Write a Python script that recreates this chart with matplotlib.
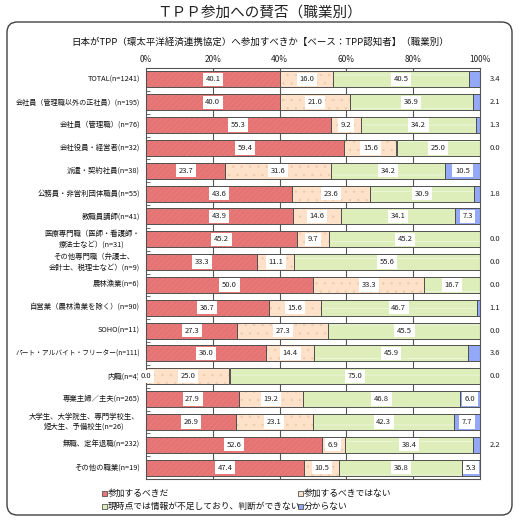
import matplotlib
matplotlib.use("Agg")
import matplotlib.pyplot as plt
from matplotlib.patches import FancyBboxPatch, Rectangle

plt.rcParams['font.family'] = ['Noto Sans CJK JP', 'DejaVu Sans']
plt.rcParams['hatch.linewidth'] = 0.4

categories = [
    "TOTAL(n=1241)",
    "会社員（管理職以外の正社員）(n=195)",
    "会社員（管理職）(n=76)",
    "会社役員・経営者(n=32)",
    "派遣・契約社員(n=38)",
    "公務員・非営利団体職員(n=55)",
    "教職員講師(n=41)",
    "医療専門職（医師・看護師・\n療法士など）(n=31)",
    "その他専門職（弁護士、\n会計士、税理士など）(n=9)",
    "農林漁業(n=6)",
    "自営業（農林漁業を除く）(n=90)",
    "SOHO(n=11)",
    "パート・アルバイト・フリーター(n=111)",
    "内職(n=4)",
    "専業主婦／主夫(n=265)",
    "大学生、大学院生、専門学校生、\n短大生、予備校生(n=26)",
    "無職、定年退職(n=232)",
    "その他の職業(n=19)",
]
should_join = [40.1, 40.0, 55.3, 59.4, 23.7, 43.6, 43.9, 45.2, 33.3, 50.0, 36.7, 27.3, 36.0, 0.0, 27.9, 26.9, 52.6, 47.4]
should_not = [16.0, 21.0, 9.2, 15.6, 31.6, 23.6, 14.6, 9.7, 11.1, 33.3, 15.6, 27.3, 14.4, 25.0, 19.2, 23.1, 6.9, 10.5]
undecided = [40.5, 36.9, 34.2, 25.0, 34.2, 30.9, 34.1, 45.2, 55.6, 16.7, 46.7, 45.5, 45.9, 75.0, 46.8, 42.3, 38.4, 36.8]
dont_know = [3.4, 2.1, 1.3, 0.0, 10.5, 1.8, 7.3, 0.0, 0.0, 0.0, 1.1, 0.0, 3.6, 0.0, 6.0, 7.7, 2.2, 5.3]
series_names = ["参加するべきだ", "参加するべきではない",
                "現時点では情報が不足しており、判断ができない", "分からない"]
xticks = [0, 20, 40, 60, 80, 100]
xticklabels = ["0%", "20%", "40%", "60%", "80%", "100%"]

title = "ＴＰＰ参加への賛否（職業別）"
subtitle = "日本がTPP（環太平洋経済連携協定）へ参加すべきか【ベース：TPP認知者】（職業別）"

colors = ["#E87878", "#FDE1C8", "#DDEEBB", "#93A9F7"]
hatch_colors = ["#DE6C6C", "#F0C8A8", "#F6FBEA", "#93A9F7"]
hatches = ["//////", "..", "-", None]

W, H = 519, 521
fig = plt.figure(figsize=(W / 100, H / 100), dpi=100)

frame = FancyBboxPatch((7 / W, 1 - 515 / H), (512 - 7) / W, (515 - 22) / H,
                       boxstyle="round,pad=0,rounding_size=0.02",
                       transform=fig.transFigure, facecolor="white",
                       edgecolor="#404040", linewidth=1.0, zorder=-10)
fig.patches.append(frame)

fig.text(0.5, 1 - 13 / H, title, ha="center", va="center", fontsize=10.5, color="#222222")
fig.text(0.502, 1 - 42 / H, subtitle, ha="center", va="center", fontsize=6.8, color="#111111")

ax = fig.add_axes([146 / W, 1 - 479 / H, (480 - 146) / W, (479 - 68) / H])
ax.set_facecolor("none")
n = len(categories)
ys = list(range(n))
series = [should_join, should_not, undecided, dont_know]
bar_h = 0.7
lefts = [0.0] * n
for si, vals in enumerate(series):
    ax.barh(ys, vals, left=lefts, height=bar_h, color=colors[si],
            edgecolor=hatch_colors[si], hatch=hatches[si], linewidth=0, zorder=2)
    ax.barh(ys, vals, left=lefts, height=bar_h, facecolor="none",
            edgecolor="#505050", linewidth=0.7, zorder=3)
    for i in range(n):
        v = vals[i]
        c = lefts[i] + v / 2
        if si == 3 and v < 5:
            ax.text(104.5, ys[i], f"{v:.1f}", ha="center", va="center", fontsize=5.5,
                    color="#222222", zorder=5, clip_on=False)
        else:
            if v == 0 and si != 0:
                continue
            ax.text(c, ys[i], f"{v:.1f}", ha="center", va="center", fontsize=5.5,
                    color="#222222", zorder=5, clip_on=False,
                    bbox=dict(boxstyle="square,pad=0.35", facecolor="white",
                              edgecolor="none"))
    lefts = [lefts[i] + vals[i] for i in range(n)]

ax.set_xlim(0, 100)
ax.set_ylim(n - 0.5, -0.5)
ax.xaxis.tick_top()
ax.set_xticks(xticks)
ax.set_xticklabels(xticklabels, fontsize=6, color="#222222")
ax.tick_params(axis="x", length=0, pad=3)
for x in xticks[1:-1]:
    ax.axvline(x, color="#555555", linewidth=0.8, zorder=1)

ax.set_yticks(ys)
ax.set_yticklabels([])
ax.tick_params(axis="y", which="major", length=0)
ax.set_yticks([i + 0.5 for i in range(n - 1)], minor=True)
ax.tick_params(axis="y", which="minor", direction="in", length=3, width=0.6, color="#555555")

label_texts = []
for i, lab in enumerate(categories):
    t = ax.annotate(lab, xy=(0, ys[i]), xycoords=("axes fraction", "data"),
                    xytext=(-4.5, 0), textcoords="offset points", ha="right", va="center",
                    multialignment="center", fontsize=5.3, color="#111111", linespacing=1.35)
    label_texts.append(t)

# shrink any label that would run into the frame
fig.canvas.draw()
renderer = fig.canvas.get_renderer()
max_w = 140 - 16
for t in label_texts:
    bb = t.get_window_extent(renderer)
    if bb.width > max_w:
        t.set_fontsize(5.3 * max_w / bb.width)

for s in ["left", "right", "top", "bottom"]:
    ax.spines[s].set_color("#555555")
    ax.spines[s].set_linewidth(0.8)

leg_items = [(102, 493, 0), (298, 493, 1), (102, 506, 2), (298, 506, 3)]
for x, y, k in leg_items:
    s = 5
    fig.patches.append(Rectangle((x / W, 1 - (y + s / 2) / H), s / W, s / H,
                                 transform=fig.transFigure, facecolor=colors[k],
                                 edgecolor="#555555", linewidth=0.6))
    fig.text((x + 6) / W, 1 - y / H, series_names[k], ha="left", va="center",
             fontsize=6.3, color="#111111")

fig.savefig("out.png", dpi=100)
